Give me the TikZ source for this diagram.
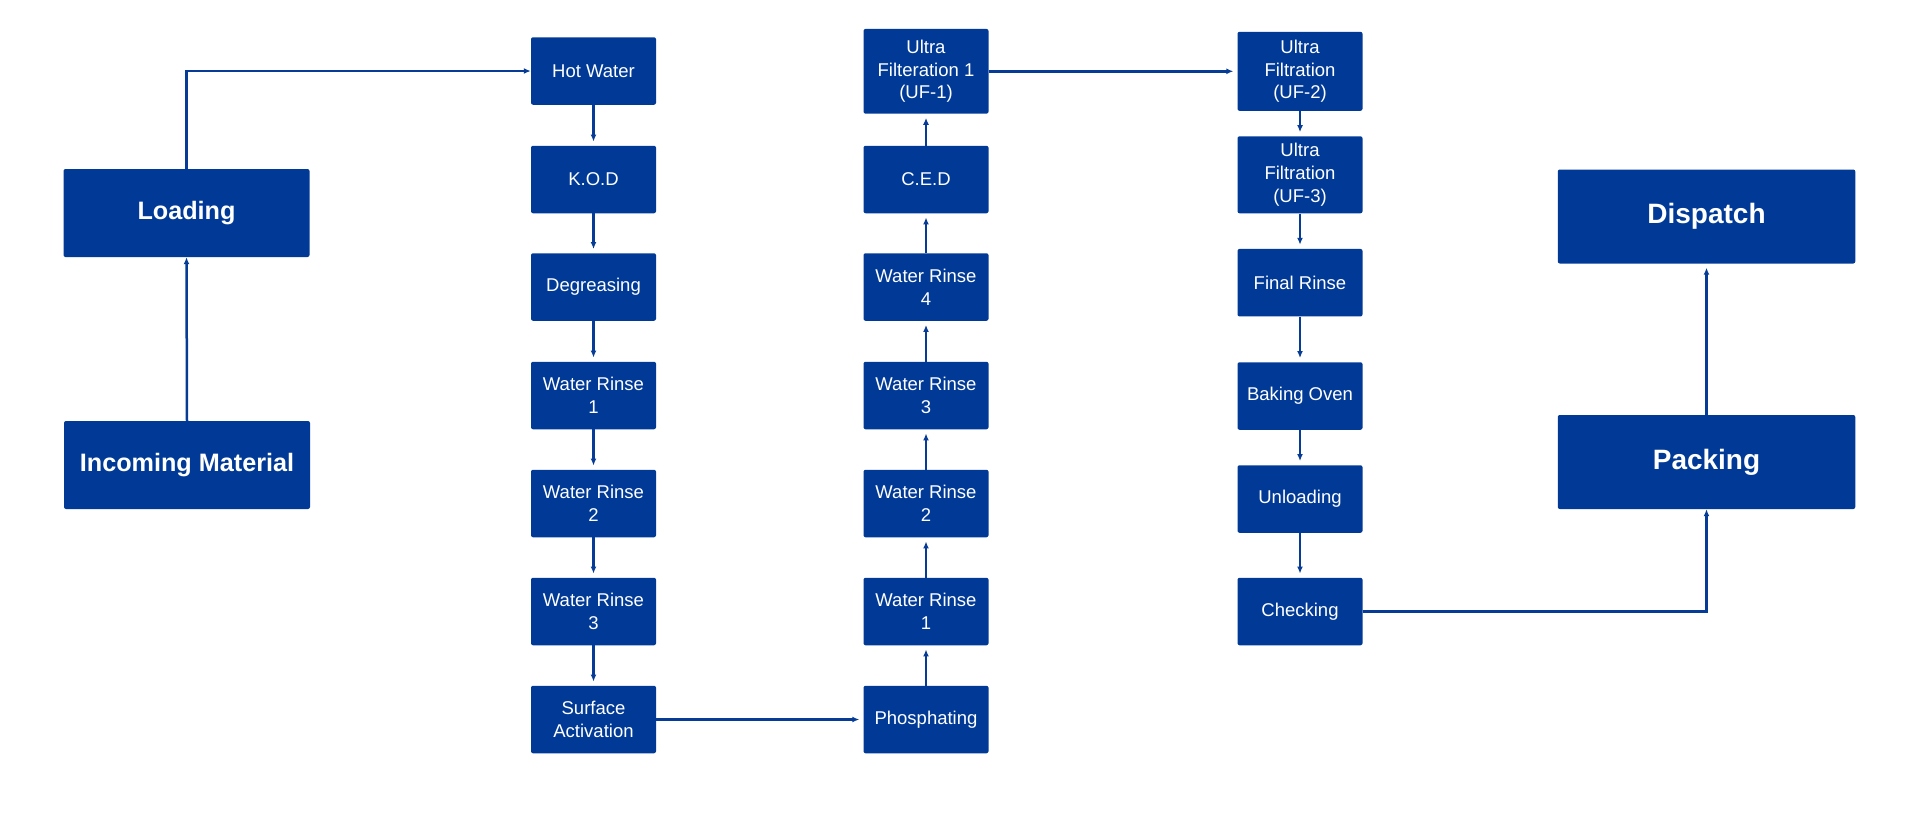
\documentclass[tikz,border=0pt]{standalone}
\usepackage{fontspec}
\setmainfont{Liberation Sans}
\usetikzlibrary{arrows.meta}
\definecolor{boxblue}{RGB}{1,58,150}
\definecolor{lineblue}{RGB}{6,60,150}
\tikzset{
  stepbox/.style={rectangle, fill=boxblue, text=white, align=center, inner sep=0pt,
    rounded corners=2pt, minimum width=125pt, minimum height=67.5pt,
    font=\fontsize{18.5}{22.7}\selectfont},
  bigbox/.style={rectangle, fill=boxblue, text=white, align=center, inner sep=0pt,
    rounded corners=2pt, minimum width=246pt, minimum height=88pt,
    font=\fontsize{25.2}{30}\selectfont\bfseries},
  hugebox/.style={bigbox, minimum width=297.5pt, minimum height=94pt,
    font=\fontsize{28}{33}\selectfont\bfseries},
  flow/.style={draw=lineblue, line width=2.5pt, -{Latex[length=7pt,width=6pt]}},
  gap/.style={shorten >=4pt}
}
\begin{document}
\begin{tikzpicture}[x=1pt,y=-1pt]
\useasboundingbox (0,0) rectangle (1920,830);
% left
\node[bigbox] (load) at (186.5,213) {Loading};
\node[bigbox] (inc) at (187,465) {Incoming Material};
% column 1
\node[stepbox] (hw) at (593.5,71) {Hot Water};
\node[stepbox] (kod) at (593.5,179.5) {K.O.D};
\node[stepbox] (deg) at (593.5,287) {Degreasing};
\node[stepbox] (wa1) at (593.5,395.5) {Water Rinse\\1};
\node[stepbox] (wa2) at (593.5,503.5) {Water Rinse\\2};
\node[stepbox] (wa3) at (593.5,611.5) {Water Rinse\\3};
\node[stepbox] (sa) at (593.5,719.5) {Surface\\Activation};
% column 2
\node[stepbox, minimum height=84.7pt] (uf1) at (926,71.3) {Ultra\\Filteration 1\\(UF-1)};
\node[stepbox] (ced) at (926,179.5) {C.E.D};
\node[stepbox] (wb4) at (926,287) {Water Rinse\\4};
\node[stepbox] (wb3) at (926,395.5) {Water Rinse\\3};
\node[stepbox] (wb2) at (926,503.5) {Water Rinse\\2};
\node[stepbox] (wb1) at (926,611.5) {Water Rinse\\1};
\node[stepbox] (ph) at (926,719.5) {Phosphating};
% column 3
\node[stepbox, minimum height=79pt] (uf2) at (1300,71.3) {Ultra\\Filtration\\(UF-2)};
\node[stepbox, minimum height=77pt] (uf3) at (1300,174.8) {Ultra\\Filtration\\(UF-3)};
\node[stepbox] (fr) at (1300,282.7) {Final Rinse};
\node[stepbox] (bo) at (1300,396) {Baking Oven};
\node[stepbox] (ul) at (1300,499) {Unloading};
\node[stepbox] (ch) at (1300,611.5) {Checking};
% right
\node[hugebox] (dis) at (1706.5,216.5) {Dispatch};
\node[hugebox] (pack) at (1706.5,462) {Packing};
% connectors
\draw[flow] (inc.north) -- (load.south);
\draw[flow] (load.north) |- (hw.west);
\draw[flow, gap] (hw) -- (kod);
\draw[flow, gap] (kod) -- (deg);
\draw[flow, gap] (deg) -- (wa1);
\draw[flow, gap] (wa1) -- (wa2);
\draw[flow, gap] (wa2) -- (wa3);
\draw[flow, gap] (wa3) -- (sa);
\draw[flow, gap] (sa.east) -- (ph.west);
\draw[flow, gap] (ph) -- (wb1);
\draw[flow, gap] (wb1) -- (wb2);
\draw[flow, gap] (wb2) -- (wb3);
\draw[flow, gap] (wb3) -- (wb4);
\draw[flow, gap] (wb4) -- (ced);
\draw[flow, gap] (ced) -- (uf1);
\draw[flow, gap] (uf1.east) -- (uf2.west);
\draw[flow, gap] (uf2) -- (uf3);
\draw[flow, gap] (uf3) -- (fr);
\draw[flow, gap] (fr) -- (bo);
\draw[flow, gap] (bo) -- (ul);
\draw[flow, gap] (ul) -- (ch);
\draw[flow] (ch.east) -| (pack.south);
\draw[flow, gap] (pack) -- (dis);
\end{tikzpicture}
\end{document}
